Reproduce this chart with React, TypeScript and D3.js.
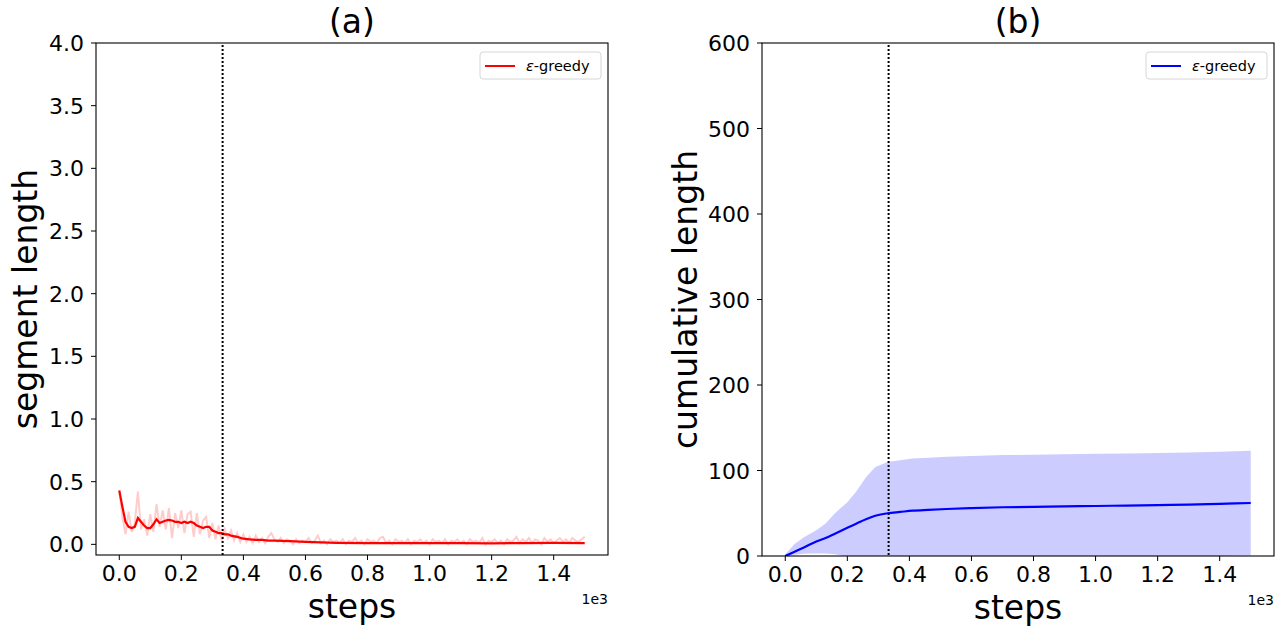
import React, { useEffect, useRef } from "react";
import * as d3 from "d3";

// (a) segment length: raw values every 10 steps, plus smoothed curve
const rawSteps = d3.range(0, 1501, 10);
const rawValues = [
  0.43, 0.22, 0.08, 0.26, 0.1, 0.17, 0.42, 0.12, 0.2, 0.07,
  0.24, 0.1, 0.32, 0.14, 0.27, 0.12, 0.29, 0.05, 0.25, 0.13,
  0.27, 0.09, 0.24, 0.26, 0.06, 0.25, 0.08, 0.19, 0.22, 0.05,
  0.17, 0.04, 0.15, 0.03, 0.12, 0.05, 0.11, 0.03, 0.09, 0.02,
  0.08, 0.02, 0.06, 0.01, 0.07, 0.02, 0.05, 0.01, 0.06, 0.09,
  0.04,
  0.02, 0.05, 0.01, 0.04, 0.03, 0.0, 0.04, 0.01, 0.03, 0.02,
  0.05, 0.01, 0.03, 0.07, 0.01, 0.03, 0.0, 0.04, 0.02, 0.03,
  0.01, 0.04, 0.0, 0.03, 0.02, 0.05, 0.01, 0.03, 0.0, 0.04,
  0.02, 0.03, 0.01, 0.05, 0.06, 0.01, 0.03, 0.0, 0.04, 0.02,
  0.03, 0.01, 0.04, 0.0, 0.03, 0.02, 0.04, 0.01, 0.03, 0.0,
  0.04, 0.02, 0.03, 0.01, 0.04, 0.0, 0.03, 0.02, 0.04, 0.01,
  0.03, 0.0, 0.04, 0.02, 0.03, 0.01, 0.05, 0.0, 0.03, 0.02,
  0.04, 0.01, 0.03, 0.0, 0.04, 0.02, 0.03, 0.06, 0.01, 0.04,
  0.02, 0.05, 0.01, 0.04, 0.03, 0.0, 0.05, 0.02, 0.04, 0.01,
  0.03, 0.05, 0.02, 0.04, 0.01, 0.05, 0.03, 0.02, 0.04, 0.06,
];
const smoothSteps = [
  0, 10, 20, 30, 40, 50, 60, 70, 80, 90, 100, 110, 120, 130, 140, 150, 160, 170, 180, 190,
  200, 210, 220, 230, 240, 250, 260, 270, 280, 290, 300, 310, 320, 330, 340, 350, 360,
  380, 400, 420, 440, 460, 480, 500, 550, 600, 650, 700, 800, 900, 1000, 1100, 1200, 1300, 1400, 1500,
];
const smoothValues = [
  0.43, 0.3, 0.18, 0.14, 0.13, 0.14, 0.21, 0.18, 0.15, 0.13, 0.13, 0.16, 0.2, 0.17, 0.18, 0.19, 0.195, 0.19, 0.18, 0.18,
  0.17, 0.18, 0.17, 0.18, 0.17, 0.15, 0.14, 0.13, 0.14, 0.14, 0.11, 0.1, 0.09, 0.09, 0.08, 0.08, 0.07,
  0.06, 0.045, 0.04, 0.035, 0.035, 0.03, 0.03, 0.025, 0.02, 0.015, 0.012, 0.01, 0.01, 0.01, 0.01, 0.008, 0.01, 0.012, 0.01,
];

// (b) cumulative length: mean and band
const cumSteps = [0, 30, 60, 100, 130, 160, 200, 230, 260, 290, 330, 370, 410, 460, 520, 600, 700, 800, 900, 1000, 1100, 1200, 1300, 1400, 1500];
const cumMean = [0, 5, 10, 17, 21, 26, 33, 38, 43, 47, 50, 51.5, 53, 54, 55, 56, 57, 57.5, 58, 58.5, 59, 59.5, 60, 61, 62];
const cumUpper = [2, 14, 22, 30, 38, 50, 63, 76, 92, 104, 110, 112, 114, 115, 116, 117, 118, 118.5, 119, 119.5, 120, 120.5, 121, 122, 123];
const cumLower = [0, 1.5, 2.5, 3, 3, 2, -1, -4, -10, -10, -10, -9, -8, -7, -6, -5, -4, -3.5, -3, -2.5, -2, -1.5, -1, 0, 1];

const xTicks = [0, 200, 400, 600, 800, 1000, 1200, 1400];
const yTicksA = [0, 0.5, 1, 1.5, 2, 2.5, 3, 3.5, 4];
const yTicksB = [0, 100, 200, 300, 400, 500, 600];
const switchStep = 333;

const FONT = "DejaVu Sans, sans-serif";

const App = () => {
  const svgRef = useRef<SVGSVGElement>(null);

  useEffect(() => {
    const svg = d3.select(svgRef.current);
    svg.selectAll("*").remove();

    const panels = [
      {
        id: "a", left: 96, right: 608, top: 43, bottom: 555,
        yDomain: [-0.085, 4], yTicks: yTicksA, yFmt: d3.format(".1f"),
        title: "(a)", ylabel: "segment length", color: "red", ylabelX: 25,
      },
      {
        id: "b", left: 762, right: 1274, top: 43, bottom: 556,
        yDomain: [0, 600], yTicks: yTicksB, yFmt: d3.format("d"),
        title: "(b)", ylabel: "cumulative length", color: "blue", ylabelX: 685,
      },
    ];

    panels.forEach((p) => {
      const x = d3.scaleLinear().domain([-75, 1575]).range([p.left, p.right]);
      const y = d3.scaleLinear().domain(p.yDomain).range([p.bottom, p.top]);
      const g = svg.append("g");

      //clip to the axes box
      svg.append("clipPath").attr("id", "clip-" + p.id)
        .append("rect")
        .attr("x", p.left).attr("y", p.top)
        .attr("width", p.right - p.left).attr("height", p.bottom - p.top);
      const plot = g.append("g").attr("clip-path", `url(#clip-${p.id})`);

      if (p.id === "a") {
        const raw = rawSteps.map((s, i) => [s, rawValues[i]] as [number, number]);
        const smooth = smoothSteps.map((s, i) => [s, smoothValues[i]] as [number, number]);
        const line = d3.line<[number, number]>().x((d) => x(d[0])).y((d) => y(d[1]));
        plot.append("path").attr("d", line(raw)).attr("fill", "none")
          .attr("stroke", "red").attr("stroke-opacity", 0.2).attr("stroke-width", 2);
        plot.append("path").attr("d", line(smooth)).attr("fill", "none")
          .attr("stroke", "red").attr("stroke-width", 2.2);
      } else {
        const band = cumSteps.map((s, i) => ({ s, lo: cumLower[i], hi: cumUpper[i], m: cumMean[i] }));
        const area = d3.area<any>().x((d) => x(d.s)).y0((d) => y(d.lo)).y1((d) => y(d.hi));
        plot.append("path").attr("d", area(band)).attr("fill", "blue").attr("fill-opacity", 0.2);
        const line = d3.line<any>().x((d) => x(d.s)).y((d) => y(d.m)).curve(d3.curveMonotoneX);
        plot.append("path").attr("d", line(band)).attr("fill", "none")
          .attr("stroke", "blue").attr("stroke-width", 2.2);
      }

      //dotted vertical marker
      g.append("line")
        .attr("x1", x(switchStep)).attr("x2", x(switchStep))
        .attr("y1", p.top + 2).attr("y2", p.bottom)
        .attr("stroke", "black").attr("stroke-width", 2)
        .attr("stroke-dasharray", "2 2");

      //frame
      g.append("rect")
        .attr("x", p.left).attr("y", p.top)
        .attr("width", p.right - p.left).attr("height", p.bottom - p.top)
        .attr("fill", "none").attr("stroke", "black").attr("stroke-width", 1.1);

      //x ticks
      xTicks.forEach((t) => {
        g.append("line").attr("x1", x(t)).attr("x2", x(t))
          .attr("y1", p.bottom).attr("y2", p.bottom + 5).attr("stroke", "black");
        g.append("text").attr("x", x(t)).attr("y", p.bottom + 26)
          .attr("text-anchor", "middle").style("font-family", FONT).style("font-size", "22px")
          .text(d3.format(".1f")(t / 1000));
      });
      //y ticks
      p.yTicks.forEach((t) => {
        g.append("line").attr("x1", p.left - 5).attr("x2", p.left)
          .attr("y1", y(t)).attr("y2", y(t)).attr("stroke", "black");
        g.append("text").attr("x", p.left - 12).attr("y", y(t) + 8)
          .attr("text-anchor", "end").style("font-family", FONT).style("font-size", "22px")
          .text(p.yFmt(t));
      });

      //offset text
      g.append("text").attr("x", p.right).attr("y", p.bottom + 49)
        .attr("text-anchor", "end").style("font-family", FONT).style("font-size", "14px")
        .text("1e3");

      //labels
      g.append("text").attr("x", (p.left + p.right) / 2).attr("y", p.bottom + 63)
        .attr("text-anchor", "middle").style("font-family", FONT).style("font-size", "33px")
        .text("steps");
      g.append("text")
        .attr("transform", `translate(${p.ylabelX + 12},${(p.top + p.bottom) / 2}) rotate(-90)`)
        .attr("text-anchor", "middle").style("font-family", FONT).style("font-size", "33px")
        .text(p.ylabel);
      g.append("text").attr("x", (p.left + p.right) / 2).attr("y", p.top - 10)
        .attr("text-anchor", "middle").style("font-family", FONT).style("font-size", "33px")
        .text(p.title);

      //legend
      const lx = p.right - 128;
      const ly = p.top + 9;
      g.append("rect").attr("x", lx).attr("y", ly).attr("width", 121).attr("height", 27)
        .attr("rx", 3).attr("fill", "white").attr("fill-opacity", 0.8)
        .attr("stroke", "#d6d6d6").attr("stroke-width", 1);
      g.append("line").attr("x1", lx + 5).attr("x2", lx + 35)
        .attr("y1", ly + 14).attr("y2", ly + 14)
        .attr("stroke", p.color).attr("stroke-width", 2);
      const lt = g.append("text").attr("x", lx + 46).attr("y", ly + 19)
        .style("font-family", FONT).style("font-size", "14.5px");
      lt.append("tspan").style("font-style", "italic").text("ε");
      lt.append("tspan").text("-greedy");
    });
  }, []);

  return (
    <svg
      ref={svgRef}
      width={1288}
      height={632}
      style={{ position: "absolute", left: 0, top: 0, background: "white" }}
    />
  );
};

export default App;
